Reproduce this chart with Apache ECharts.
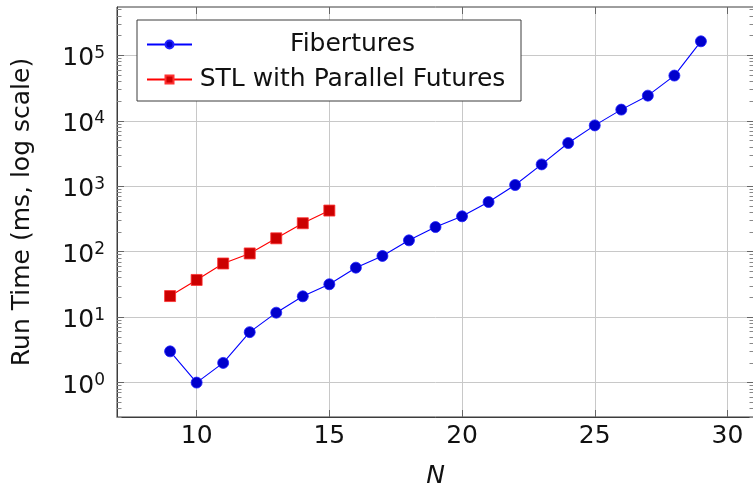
<!DOCTYPE html>
<html>
<head>
<meta charset="utf-8">
<script src="https://cdn.jsdelivr.net/npm/echarts@6/dist/echarts.min.js"></script>
<style>
  html, body { margin: 0; padding: 0; background: #fff; overflow: hidden; }
  #chart { width: 760px; height: 488px; }
</style>
</head>
<body>
<div id="chart"></div>
<script>
// N values and run times (ms)
const fibN = [9, 10, 11, 12, 13, 14, 15, 16, 17, 18, 19, 20, 21, 22, 23, 24, 25, 26, 27, 28, 29];
const fibTimes = [3.0, 1.0, 2.0, 5.9, 11.7, 20.8, 31.8, 57, 86, 149, 238, 347, 574, 1044, 2155, 4571, 8500, 14800, 24200, 49000, 163700];
const stlN = [9, 10, 11, 12, 13, 14, 15];
const stlTimes = [21, 37, 66, 94, 160, 272, 425];

const xTicks = [10, 15, 20, 25, 30];
const yMajor = [1, 10, 100, 1000, 10000, 100000];

const X_MIN = 7, X_MAX = 31;
const Y_MIN = Math.pow(10, -0.5255), Y_MAX = Math.pow(10, 5.738);

// minor ticks 2..9 of each decade, kept inside the axis range
const yMinor = [];
[0.1, 1, 10, 100, 1000, 10000, 100000].forEach(d => {
    for (let k = 2; k <= 9; k++) {
        if (k * d > Y_MIN && k * d < Y_MAX) yMinor.push(k * d);
    }
});

const FONT = 'DejaVu Sans';
const frame = '#3c3c3c';
const gridRect = { left: 117, top: 7, width: 637, height: 410, outerBoundsMode: 'none', containLabel: false };

const chart = echarts.init(document.getElementById('chart'));

function logAxis(pos, grid, ticks, len, extra) {
    return Object.assign({
        type: 'log',
        gridIndex: grid,
        position: pos,
        min: Y_MIN,
        max: Y_MAX,
        axisLine: { show: false },
        axisTick: { show: true, inside: true, length: len, customValues: ticks, lineStyle: { color: '#666', width: 1 } },
        axisLabel: { show: false },
        splitLine: { show: false }
    }, extra || {});
}

const minorTick = { show: true, inside: true, length: 4.5, customValues: yMinor, lineStyle: { color: '#888' } };

chart.setOption({
    animation: false,
    backgroundColor: '#fff',
    grid: [
        Object.assign({ show: true, borderColor: frame, borderWidth: 1, backgroundColor: 'transparent' }, gridRect),
        Object.assign({ show: false }, gridRect)
    ],
    legend: {
        orient: 'vertical',
        left: 137,
        top: 20,
        padding: [12, 13, 9, 9],
        itemWidth: 45,
        itemHeight: 10,
        itemGap: 10,
        backgroundColor: '#fff',
        borderColor: frame,
        borderWidth: 1,
        data: ['Fibertures', 'STL with Parallel Futures'],
        formatter: name => '{t|' + name + '}',
        textStyle: {
            fontFamily: FONT,
            fontSize: 25,
            color: '#111',
            rich: { t: { fontFamily: FONT, fontSize: 25, width: 311, align: 'center', lineHeight: 28 } }
        }
    },
    xAxis: [
        {
            type: 'value', gridIndex: 0, position: 'bottom',
            min: X_MIN, max: X_MAX,
            name: 'N', nameLocation: 'middle', nameGap: 47,
            nameTextStyle: { fontFamily: FONT, fontSize: 25, fontStyle: 'italic', color: '#111' },
            axisLine: { show: true, lineStyle: { color: frame } },
            axisTick: { show: true, inside: true, length: 7, customValues: xTicks, lineStyle: { color: '#666' } },
            axisLabel: { customValues: xTicks, margin: 7, fontFamily: FONT, fontSize: 25, color: '#111' },
            splitLine: { show: true, lineStyle: { color: '#c8c8c8', width: 1 } }
        },
        {
            type: 'value', gridIndex: 0, position: 'top',
            min: X_MIN, max: X_MAX,
            axisLine: { show: false },
            axisTick: { show: true, inside: true, length: 7, customValues: xTicks, lineStyle: { color: '#666' } },
            axisLabel: { show: false },
            splitLine: { show: false }
        },
        { type: 'value', gridIndex: 1, min: X_MIN, max: X_MAX, show: false }
    ],
    yAxis: [
        logAxis('left', 0, yMajor, 7, {
            name: 'Run Time (ms, log scale)',
            nameLocation: 'middle',
            nameGap: 82,
            nameTextStyle: { fontFamily: FONT, fontSize: 25, color: '#111' },
            axisLine: { show: true, lineStyle: { color: frame } },
            axisLabel: {
                show: true,
                customValues: yMajor,
                margin: 12,
                padding: [7, 0, 0, 0],
                formatter: v => '{b|10}{s|' + Math.round(Math.log10(v)) + '}',
                rich: {
                    b: { fontFamily: FONT, fontSize: 25, color: '#111', lineHeight: 28 },
                    s: { fontFamily: FONT, fontSize: 17, color: '#111', lineHeight: 12, verticalAlign: 'top' }
                }
            },
            splitLine: { show: true, lineStyle: { color: '#c8c8c8', width: 1 } }
        }),
        logAxis('right', 0, yMajor, 7),
        logAxis('left', 1, yMinor, 4.5, { axisTick: minorTick }),
        logAxis('right', 1, yMinor, 4.5, { axisTick: minorTick })
    ],
    series: [
        {
            name: 'Fibertures',
            type: 'line',
            xAxisIndex: 0,
            yAxisIndex: 0,
            data: fibN.map((n, i) => [n, fibTimes[i]]),
            symbol: 'circle',
            symbolSize: 11,
            lineStyle: { color: '#0000ff', width: 1.1 },
            itemStyle: { color: '#0000cc', borderColor: '#2020ff', borderWidth: 0.8 },
            z: 3
        },
        {
            name: 'STL with Parallel Futures',
            type: 'line',
            xAxisIndex: 0,
            yAxisIndex: 0,
            data: stlN.map((n, i) => [n, stlTimes[i]]),
            symbol: 'rect',
            symbolSize: 11,
            lineStyle: { color: '#ff0000', width: 1.1 },
            itemStyle: { color: '#cc0000', borderColor: '#ff3030', borderWidth: 0.8 },
            z: 3
        }
    ]
});

window.addEventListener('resize', () => chart.resize());
</script>
</body>
</html>
